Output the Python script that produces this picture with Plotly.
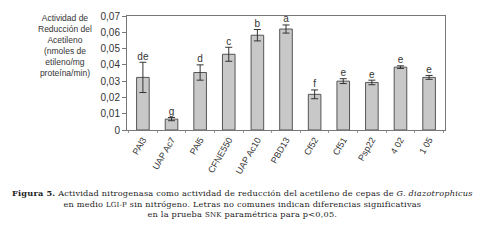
import plotly.graph_objects as go

categories = ["PAl3", "UAP Ac7", "PAl5", "CFNE550", "UAP Ac10", "PBD13",
              "Cf52", "Cf51", "Psp22", "4 02", "1 05"]
values = [0.0323, 0.0067, 0.0353, 0.0465, 0.0582, 0.0620,
          0.0219, 0.0300, 0.0292, 0.0386, 0.0323]
errors = [0.0093, 0.0010, 0.0047, 0.0043, 0.0035, 0.0025,
          0.0027, 0.0015, 0.0014, 0.0008, 0.0012]
letters = ["de", "g", "d", "c", "b", "a", "f", "e", "e", "e", "e"]
ytick_vals = [0, 0.01, 0.02, 0.03, 0.04, 0.05, 0.06, 0.07]
ytick_text = ["0", "0,01", "0,02", "0,03", "0,04", "0,05", "0,06", "0,07"]
caption_lines = [
    "<b>Figura 5.</b> Actividad nitrogenasa como actividad de reducción del acetileno de cepas de <i>G. diazotrophicus</i>",
    "en medio <span style='font-size:7px'>LGI-P</span> sin nitrógeno. Letras no comunes indican diferencias significativas",
    "en la prueba <span style='font-size:7px'>SNK</span> paramétrica para p&lt;0,05.",
]

fig = go.Figure()
fig.add_trace(go.Bar(
    x=categories, y=values, width=0.44,
    marker=dict(color="#c8c8c8", line=dict(color="#555555", width=1)),
    error_y=dict(type="data", array=errors, color="#333333", thickness=1, width=3.5),
))
fig.add_trace(go.Scatter(
    x=categories, y=[v + e for v, e in zip(values, errors)],
    mode="text", text=letters, textposition="top center",
    textfont=dict(family="Arial, Liberation Sans", size=10, color="#333333"),
    cliponaxis=False, hoverinfo="skip",
))

fig.update_layout(
    width=492, height=240,
    margin=dict(l=119, r=55, t=8, b=118, autoexpand=False),
    paper_bgcolor="white", plot_bgcolor="white",
    showlegend=False,
    font=dict(family="Arial, Liberation Sans", color="#333333"),
)
fig.update_xaxes(
    showline=True, linecolor="#777777", linewidth=1, mirror=True,
    ticks="outside", tickson="boundaries", ticklen=2, tickcolor="#999999",
    tickangle=-60, automargin=False,
    tickfont=dict(size=9, color="#333333"),
    showgrid=False,
)
fig.update_yaxes(
    range=[0, 0.07], tickvals=ytick_vals, ticktext=ytick_text,
    showline=True, linecolor="#777777", linewidth=1, mirror=True,
    ticks="outside", ticklen=4, tickcolor="#777777", automargin=False,
    tickfont=dict(size=10, color="#333333"),
    showgrid=False, zeroline=False,
)

fig.add_annotation(
    xref="paper", yref="paper", x=-0.195, y=1.04, xanchor="center", yanchor="top",
    text="Actividad de<br>Reducción del<br>Acetileno<br>(nmoles de<br>etileno/mg<br>proteína/min)",
    showarrow=False, align="center",
    font=dict(family="Arial, Liberation Sans", size=8.5, color="#333333"),
)
fig.add_annotation(
    xref="paper", yref="paper", x=0.362, y=-0.645, xanchor="center", yanchor="middle",
    text="<span style='letter-spacing:0.2px'>" + "<br>".join(caption_lines) + "</span>",
    showarrow=False, align="center",
    font=dict(family="DejaVu Serif, serif", size=8.2, color="#222222"),
)

fig.write_html("out.html")
